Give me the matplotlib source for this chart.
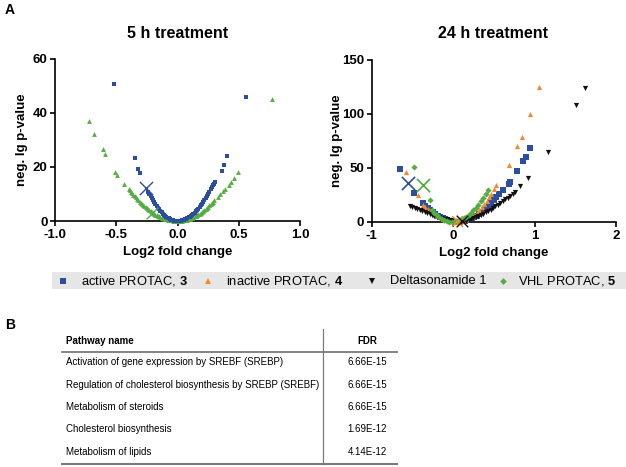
import matplotlib
matplotlib.use("Agg")
import matplotlib.pyplot as plt
from matplotlib.lines import Line2D
from matplotlib.patches import Rectangle
from matplotlib.ticker import FormatStrFormatter

plt.rcParams['font.family'] = ['Liberation Sans', 'DejaVu Sans']
plt.rcParams['mathtext.fontset'] = 'custom'
plt.rcParams['mathtext.rm'] = 'Liberation Sans'
plt.rcParams['mathtext.bf'] = 'Liberation Sans:bold'
plt.rcParams['axes.unicode_minus'] = False

# --- 5 h treatment: log2 fold change / neg. lg p-value ---
act5_x = [-0.52, -0.35, -0.32, -0.31, 0.56, 0.40, 0.38, 0.36, 0.31, 0.30,
          -0.24, -0.23, -0.22, -0.21, -0.20, -0.19, -0.18, -0.17, -0.16, -0.15,
          -0.14, -0.13, -0.12, -0.11, -0.10, -0.09, -0.08, -0.07, -0.06, -0.05,
          -0.04, -0.03, -0.02, -0.01, 0.00, 0.01, 0.02, 0.03, 0.04, 0.05,
          0.06, 0.07, 0.08, 0.09, 0.10, 0.11, 0.12, 0.13, 0.14, 0.15,
          0.16, 0.17, 0.18, 0.19, 0.20, 0.21, 0.22, 0.23, 0.24, 0.25,
          0.26, 0.27, 0.28, 0.29]
act5_y = [50.7, 23.3, 19.2, 17.8, 45.7, 24.2, 20.6, 18.6, 14.5, 13.8,
          10.9, 10.1, 9.2, 8.4, 7.6, 6.9, 6.2, 5.5, 4.9, 4.3,
          3.7, 3.2, 2.7, 2.3, 1.9, 1.5, 1.2, 0.93, 0.68, 0.48,
          0.3, 0.17, 0.08, 0.02, 0.0, 0.02, 0.06, 0.14, 0.26, 0.4,
          0.58, 0.78, 1.02, 1.3, 1.6, 1.94, 2.3, 2.7, 3.14, 3.6,
          4.1, 4.62, 5.18, 5.78, 6.4, 7.06, 7.74, 8.46, 9.22, 10.0,
          10.8, 11.66, 12.54, 13.46]

vhl5_x = [-0.72, -0.68, -0.61, -0.59, -0.51, -0.49, -0.44, 0.77,
          -0.40, -0.39, -0.38, -0.37, -0.36, -0.35, -0.34, -0.33, -0.32, -0.31,
          -0.30, -0.29, -0.28, -0.27, -0.26, -0.25, -0.24, -0.23, -0.22, -0.21,
          -0.20, -0.19, -0.18, -0.17, -0.16, -0.15, -0.14, -0.13, -0.12, -0.11,
          -0.10, -0.09, -0.08, -0.07, -0.06, -0.05, -0.04, -0.03, -0.02, -0.01,
          0.00, 0.01, 0.02, 0.03, 0.04, 0.05, 0.06, 0.07, 0.08, 0.09,
          0.10, 0.11, 0.12, 0.13, 0.14, 0.15, 0.16, 0.17, 0.18, 0.19,
          0.20, 0.21, 0.22, 0.23, 0.24, 0.25, 0.26, 0.27, 0.28, 0.29, 0.30,
          0.33, 0.35, 0.37, 0.39, 0.42, 0.44, 0.46, 0.49]
vhl5_y = [37.0, 32.3, 26.5, 24.8, 18.0, 17.0, 13.5, 45.0,
          12.0, 11.4, 10.8, 10.3, 9.7, 9.2, 8.7, 8.2, 7.7, 7.2,
          6.75, 6.3, 5.9, 5.5, 5.1, 4.7, 4.3, 4.0, 3.6, 3.3,
          3.0, 2.7, 2.4, 2.2, 1.9, 1.7, 1.5, 1.27, 1.08, 0.91,
          0.75, 0.61, 0.48, 0.37, 0.27, 0.19, 0.12, 0.07, 0.03, 0.01,
          0.0, 0.01, 0.03, 0.08, 0.14, 0.21, 0.31, 0.42, 0.54, 0.69,
          0.85, 1.03, 1.22, 1.44, 1.67, 1.91, 2.18, 2.46, 2.75, 3.07,
          3.4, 3.75, 4.11, 4.5, 4.9, 5.31, 5.75, 6.2, 6.66, 7.15, 7.65,
          9.0, 10.0, 11.0, 12.0, 13.2, 14.5, 16.0, 18.0]

# target protein (crosses)
act5_target = (-0.257, 12.1)
vhl5_target = (-0.21, 3.1)

# --- 24 h treatment ---
act24_x = [-0.65, -0.48, 0.53, 0.565, 0.61, 0.68, 0.70, 0.79, 0.86, 0.90, 0.95,
           -0.37, -0.34, -0.31, -0.28, -0.25, -0.22, -0.19, -0.16, -0.13, -0.10,
           -0.07, -0.04, -0.01, 0.02, 0.05, 0.08, 0.11, 0.14, 0.17, 0.20,
           0.23, 0.26, 0.29, 0.32, 0.35, 0.38, 0.41, 0.44, 0.47, 0.50]
act24_y = [49, 27, 23, 26, 29, 35, 37, 47, 56, 60, 68,
           16.9, 14.6, 12.4, 10.5, 8.6, 7.0, 5.5, 4.2, 3.1, 2.2,
           1.4, 0.8, 0.35, 0.1, 0.0, 0.1, 0.36, 0.8, 1.4, 2.2,
           3.2, 4.4, 5.7, 7.2, 8.9, 10.8, 12.8, 15.1, 17.5, 20.0]

inact24_x = [-0.58, -0.43, 0.69, 0.79, 0.84, 0.94, 1.06,
             -0.37, -0.34, -0.31, -0.28, -0.25, -0.22, -0.19, -0.16, -0.13, -0.10,
             -0.07, -0.04, -0.01, 0.02, 0.05, 0.08, 0.11, 0.14, 0.17, 0.20,
             0.23, 0.26, 0.29, 0.32, 0.35, 0.38, 0.41, 0.44, 0.47, 0.50, 0.53]
inact24_y = [46, 25, 53, 70, 79, 100, 125,
             15.5, 13.4, 11.4, 9.6, 7.9, 6.4, 5.1, 3.9, 2.9, 2.0,
             1.3, 0.7, 0.3, 0.1, 0.0, 0.13, 0.53, 1.2, 2.1, 3.3,
             4.8, 6.5, 8.5, 10.8, 13.3, 16.1, 19.2, 22.5, 26.1, 30.0, 34.1]

delta24_x = [0.82, 0.92, 1.17, 1.51, 1.62,
             -0.53, -0.50, -0.47, -0.44, -0.41, -0.38, -0.35, -0.32, -0.29, -0.26,
             -0.23, -0.20, -0.17, -0.14, -0.11, -0.08, -0.05, -0.02, 0.01, 0.04,
             0.07, 0.10, 0.13, 0.16, 0.19, 0.22, 0.25, 0.28, 0.31, 0.34,
             0.37, 0.40, 0.43, 0.46, 0.49, 0.52, 0.55, 0.58, 0.61, 0.64,
             0.67, 0.70, 0.73, 0.76]
delta24_y = [33, 41, 65, 108, 124,
             14.8, 13.8, 12.7, 11.7, 10.8, 9.8, 8.9, 8.1, 7.2, 6.4,
             5.6, 4.9, 4.2, 3.5, 2.8, 2.3, 1.7, 1.2, 0.8, 0.4,
             0.15, 0.0, 0.27, 0.77, 1.4, 2.2, 3.0, 4.0, 5.0, 6.1,
             7.3, 8.6, 9.9, 11.2, 12.7, 14.2, 15.7, 17.3, 18.9, 20.7,
             22.4, 24.2, 26.0, 27.9]

vhl24_x = [-0.48, -0.29,
           -0.26, -0.23, -0.20, -0.17, -0.14, -0.11, -0.08, -0.05, -0.02, 0.01,
           0.04, 0.07, 0.10, 0.13, 0.16, 0.19, 0.22, 0.25, 0.28, 0.31,
           0.34, 0.37, 0.40, 0.43]
vhl24_y = [51, 20,
           10.9, 8.4, 6.2, 4.3, 2.7, 1.5, 0.7, 0.17, 0.0, 0.13,
           0.5, 1.2, 2.1, 3.3, 4.7, 6.4, 8.4, 10.6, 13.1, 15.8,
           18.8, 22.1, 25.6, 29.4]

act24_target = (-0.56, 36)
vhl24_target = (-0.375, 34)
inact24_target = (0.05, 0.6)
delta24_target = (0.11, 0.6)

# --- pathway table ---
pathways = ['Activation of gene expression by SREBF (SREBP)',
            'Regulation of cholesterol biosynthesis by SREBP (SREBF)',
            'Metabolism of steroids',
            'Cholesterol biosynthesis',
            'Metabolism of lipids']
fdr = ['6.66E-15', '6.66E-15', '6.66E-15', '1.69E-12', '4.14E-12']

labels = ['active PROTAC, $\\mathbf{3}$', 'inactive PROTAC, $\\mathbf{4}$',
          'Deltasonamide 1', 'VHL PROTAC, $\\mathbf{5}$']

BLUE = '#2b4f9e'
ORANGE = '#ee8a33'
GREEN = '#53ad42'
BLACK = '#111111'

W, H = 626, 467
fig = plt.figure(figsize=(W / 100, H / 100), dpi=100)


def fx(px):
    return px / W


def fy(py):
    return 1 - py / H


def style_axes(ax, xlim, ylim, xticks, yticks, fmt):
    ax.set_xlim(*xlim)
    ax.set_ylim(*ylim)
    ax.set_xticks(xticks)
    ax.set_yticks(yticks)
    ax.xaxis.set_major_formatter(FormatStrFormatter(fmt))
    for s in ['top', 'right']:
        ax.spines[s].set_visible(False)
    for s in ['left', 'bottom']:
        ax.spines[s].set_linewidth(1.2)
    ax.tick_params(width=1.2, length=3.8, labelsize=9.5)
    ax.tick_params(axis='y', pad=1.5)
    ax.tick_params(axis='x', pad=2)
    for lbl in ax.get_xticklabels() + ax.get_yticklabels():
        lbl.set_fontweight('bold')
    ax.set_xlabel('Log2 fold change', fontsize=9.5, fontweight='bold', va='center')
    ax.set_ylabel('neg. lg p-value', fontsize=9.5, fontweight='bold', va='center')


# left panel
ax1 = fig.add_axes([fx(55), fy(221), fx(245), (221 - 58.7) / H])
ax1.scatter(vhl5_x, vhl5_y, marker='^', s=12, color=GREEN, lw=0, clip_on=False, zorder=3)
ax1.scatter(act5_x, act5_y, marker='s', s=12, color=BLUE, lw=0, clip_on=False, zorder=3)
ax1.scatter(*vhl5_target, marker='x', s=70, color=GREEN, lw=1, zorder=4)
ax1.scatter(*act5_target, marker='x', s=90, color=BLUE, lw=1, zorder=4)
style_axes(ax1, (-1, 1), (0, 60), [-1, -0.5, 0, 0.5, 1], [0, 20, 40, 60], '%.1f')
ax1.yaxis.set_label_coords(-33.3 / 245, 0.5)
ax1.xaxis.set_label_coords(0.5, -31 / 162.3)
fig.text(fx(177.5), fy(33), '5 h treatment', ha='center', va='center',
         fontsize=11.5, fontweight='bold')

# right panel
ax2 = fig.add_axes([fx(371.7), fy(221.7), fx(244.3), (221.7 - 60) / H])
ax2.scatter(act24_x, act24_y, marker='s', s=13, color=BLUE, lw=0, clip_on=False, zorder=3)
ax2.scatter(inact24_x, inact24_y, marker='^', s=14, color=ORANGE, lw=0, clip_on=False, zorder=3)
ax2.scatter(delta24_x, delta24_y, marker='v', s=14, color=BLACK, lw=0, clip_on=False, zorder=3)
ax2.scatter(vhl24_x, vhl24_y, marker='D', s=10, color=GREEN, lw=0, clip_on=False, zorder=3)
ax2.scatter(*act24_target, marker='x', s=90, color=BLUE, lw=1.2, zorder=4)
ax2.scatter(*vhl24_target, marker='x', s=90, color=GREEN, lw=1.2, zorder=4)
ax2.scatter(*inact24_target, marker='x', s=60, color=ORANGE, lw=1, clip_on=False, zorder=4)
ax2.scatter(*delta24_target, marker='x', s=70, color=BLACK, lw=1, clip_on=False, zorder=4)
style_axes(ax2, (-1, 2), (0, 150), [-1, 0, 1, 2], [0, 50, 100, 150], '%d')
ax2.yaxis.set_label_coords(-35 / 244.3, 0.5)
ax2.xaxis.set_label_coords(0.5, -31 / 161.7)
fig.text(fx(493), fy(33), '24 h treatment', ha='center', va='center',
         fontsize=11.5, fontweight='bold')

fig.text(fx(10), fy(10), 'A', ha='center', va='center', fontsize=10, fontweight='bold')
fig.text(fx(10), fy(325), 'B', ha='center', va='center', fontsize=10, fontweight='bold')

# legend band
fig.add_artist(Rectangle((fx(52), fy(289)), fx(626 - 52), (289 - 272) / H,
                         transform=fig.transFigure, color='#e6e6e6', lw=0, zorder=0))
leg_markers = ['s', '^', 'v', 'D']
leg_colors = [BLUE, ORANGE, BLACK, GREEN]
leg_marker_x = [63, 208, 372, 503]
leg_text_x = [81, 226, 390, 518]
for m, c, mx, tx, lab in zip(leg_markers, leg_colors, leg_marker_x, leg_text_x, labels):
    fig.add_artist(Line2D([fx(mx)], [fy(281)], marker=m, color=c, ls='none',
                          markersize=4.2 if m != 'D' else 3.4, mew=0,
                          transform=fig.transFigure))
    fig.text(fx(tx), fy(281), lab, ha='left', va='center', fontsize=9.3)

# table
row_y = [362.3, 384.7, 407.3, 429.3, 452]
fig.text(fx(66), fy(341), 'Pathway name', ha='left', va='center', fontsize=7, fontweight='bold')
fig.text(fx(367), fy(341), 'FDR', ha='center', va='center', fontsize=7, fontweight='bold')
for name, val, ry in zip(pathways, fdr, row_y):
    fig.text(fx(66), fy(ry), name, ha='left', va='center', fontsize=7)
    fig.text(fx(367), fy(ry), val, ha='center', va='center', fontsize=7)
LINE = '#7a7a7a'
fig.add_artist(Line2D([fx(62), fx(397)], [fy(352), fy(352)], color=LINE, lw=1.3,
                      transform=fig.transFigure))
fig.add_artist(Line2D([fx(62), fx(397)], [fy(463.5), fy(463.5)], color=LINE, lw=1.5,
                      transform=fig.transFigure))
fig.add_artist(Line2D([fx(323), fx(323)], [fy(329), fy(463.5)], color=LINE, lw=0.9,
                      transform=fig.transFigure))

fig.savefig('out.png', dpi=100)
